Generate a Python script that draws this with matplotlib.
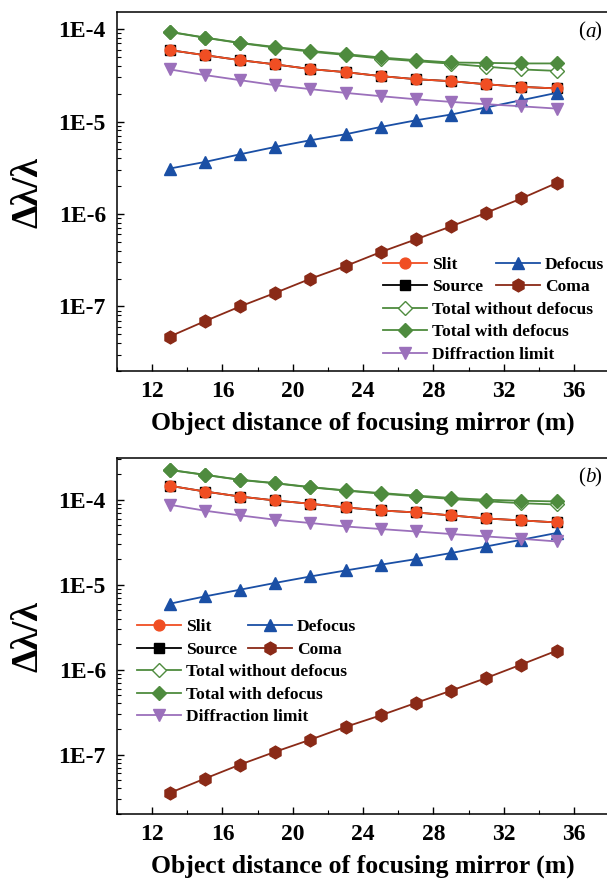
import numpy as np
import matplotlib
matplotlib.use('Agg')
import matplotlib.pyplot as plt
from matplotlib.ticker import LogLocator, FuncFormatter, MultipleLocator, NullFormatter

# ---------------- data ----------------
x = [13, 15, 17, 19, 21, 23, 25, 27, 29, 31, 33, 35]

# panel (a)
a_slit = [5.92e-5, 5.22e-5, 4.61e-5, 4.15e-5, 3.69e-5, 3.42e-5, 3.10e-5, 2.87e-5, 2.73e-5, 2.53e-5, 2.37e-5, 2.28e-5]
a_source = [5.92e-5, 5.22e-5, 4.61e-5, 4.15e-5, 3.69e-5, 3.42e-5, 3.10e-5, 2.87e-5, 2.73e-5, 2.53e-5, 2.37e-5, 2.28e-5]
a_defocus = [3.10e-6, 3.65e-6, 4.42e-6, 5.31e-6, 6.27e-6, 7.28e-6, 8.73e-6, 1.03e-5, 1.19e-5, 1.42e-5, 1.70e-5, 2.04e-5]
a_coma = [4.72e-8, 6.92e-8, 9.98e-8, 1.40e-7, 1.99e-7, 2.73e-7, 3.87e-7, 5.31e-7, 7.34e-7, 1.03e-6, 1.47e-6, 2.16e-6]
a_total_wo = [9.30e-5, 8.05e-5, 7.05e-5, 6.30e-5, 5.70e-5, 5.25e-5, 4.80e-5, 4.50e-5, 4.22e-5, 3.92e-5, 3.66e-5, 3.53e-5]
a_total_w = [9.35e-5, 8.10e-5, 7.10e-5, 6.40e-5, 5.80e-5, 5.36e-5, 4.93e-5, 4.61e-5, 4.35e-5, 4.31e-5, 4.25e-5, 4.25e-5]
a_diff = [3.66e-5, 3.18e-5, 2.80e-5, 2.47e-5, 2.24e-5, 2.04e-5, 1.88e-5, 1.74e-5, 1.63e-5, 1.54e-5, 1.46e-5, 1.38e-5]

# panel (b)
b_slit = [1.46e-4, 1.25e-4, 1.09e-4, 9.80e-5, 8.97e-5, 8.12e-5, 7.48e-5, 7.09e-5, 6.54e-5, 6.02e-5, 5.71e-5, 5.41e-5]
b_source = [1.46e-4, 1.25e-4, 1.09e-4, 9.80e-5, 8.97e-5, 8.12e-5, 7.48e-5, 7.09e-5, 6.54e-5, 6.02e-5, 5.71e-5, 5.41e-5]
b_defocus = [5.97e-6, 7.28e-6, 8.73e-6, 1.05e-5, 1.25e-5, 1.47e-5, 1.72e-5, 2.00e-5, 2.36e-5, 2.82e-5, 3.38e-5, 4.06e-5]
b_coma = [3.54e-8, 5.22e-8, 7.63e-8, 1.08e-7, 1.50e-7, 2.12e-7, 2.90e-7, 4.06e-7, 5.66e-7, 7.98e-7, 1.15e-6, 1.67e-6]
b_total_wo = [2.24e-4, 1.96e-4, 1.71e-4, 1.56e-4, 1.40e-4, 1.28e-4, 1.18e-4, 1.10e-4, 1.02e-4, 9.60e-5, 9.10e-5, 8.80e-5]
b_total_w = [2.25e-4, 1.97e-4, 1.72e-4, 1.57e-4, 1.41e-4, 1.29e-4, 1.20e-4, 1.12e-4, 1.05e-4, 1.00e-4, 9.73e-5, 9.55e-5]
b_diff = [8.73e-5, 7.43e-5, 6.54e-5, 5.82e-5, 5.32e-5, 4.85e-5, 4.52e-5, 4.23e-5, 3.95e-5, 3.70e-5, 3.47e-5, 3.23e-5]

xticks = [12, 16, 20, 24, 28, 32, 36]
panel_labels = ['a', 'b']
xlabel = 'Object distance of focusing mirror (m)'
ylabel = '\u0394\u03bb/\u03bb'
legend1_labels = ['Slit', 'Source', 'Total without defocus', 'Total with defocus', 'Diffraction limit']
legend2_labels = ['Defocus', 'Coma']

# ---------------- style ----------------
SERIF = 'Liberation Serif'
plt.rcParams['font.family'] = SERIF
plt.rcParams['font.weight'] = 'bold'

C_SLIT = '#F04E23'
C_SOURCE = '#000000'
C_DEF = '#1A4FA5'
C_COMA = '#8A2A17'
C_GREEN = '#4E8B3E'
C_DIFF = '#9B70BB'
LW = 1.3

W, H = 607, 880
fig = plt.figure(figsize=(W / 100, H / 100), dpi=100)


def px_axes(left, top, right, bottom):
    return fig.add_axes([left / W, 1 - bottom / H, (right - left) / W, (bottom - top) / H])


ax_a = px_axes(117, 12, 609.3, 371)
ax_b = px_axes(117, 458, 609.3, 814)

panels = [
    (ax_a, a_slit, a_source, a_defocus, a_coma, a_total_wo, a_total_w, a_diff, (2e-8, 1.53e-4)),
    (ax_b, b_slit, b_source, b_defocus, b_coma, b_total_wo, b_total_w, b_diff, (2e-8, 3.1e-4)),
]

for i, (ax, slit, source, defocus, coma, two, tw, diff, ylim) in enumerate(panels):
    h_source, = ax.plot(x, source, '-s', color=C_SOURCE, lw=LW, ms=7.2)
    h_slit, = ax.plot(x, slit, '-o', color=C_SLIT, lw=LW, ms=7.8)
    h_def, = ax.plot(x, defocus, '-^', color=C_DEF, lw=LW, ms=8.8)
    h_coma, = ax.plot(x, coma, '-h', color=C_COMA, lw=LW, ms=9.2)
    h_two, = ax.plot(x, two, '-D', color=C_GREEN, mfc='white', mec=C_GREEN, mew=1.0,
                     lw=LW, ms=6.8)
    h_tw, = ax.plot(x, tw, '-D', color=C_GREEN, lw=LW, ms=6.8)
    h_diff, = ax.plot(x, diff, '-v', color=C_DIFF, lw=LW, ms=8.8)

    ax.set_yscale('log')
    ax.set_xlim(10, 38)
    ax.set_ylim(*ylim)
    ax.set_xticks(xticks)
    ax.xaxis.set_minor_locator(MultipleLocator(2))
    ax.yaxis.set_major_locator(LogLocator(base=10, numticks=20))
    ax.yaxis.set_minor_locator(LogLocator(base=10, subs=np.arange(2, 10), numticks=20))
    ax.yaxis.set_minor_formatter(NullFormatter())
    ax.yaxis.set_major_formatter(FuncFormatter(lambda v, p: '1E%d' % int(round(np.log10(v)))))

    ax.tick_params(axis='both', which='major', direction='in', length=5, width=1.0,
                   labelsize=17, pad=8)
    ax.tick_params(axis='both', which='minor', direction='in', length=3, width=0.8)
    ax.tick_params(axis='x', which='major', pad=7)
    for lab in ax.get_xticklabels() + ax.get_yticklabels():
        lab.set_fontweight('bold')
    for sp in ax.spines.values():
        sp.set_linewidth(1.1)

    ax.set_xlabel(xlabel, fontsize=18.5, fontweight='bold', labelpad=7)

    ax.text(0.951, 0.944, '(', transform=ax.transAxes, fontsize=15, fontweight='normal',
            ha='right', va='center')
    ax.text(0.951, 0.944, panel_labels[i], transform=ax.transAxes, fontsize=15,
            fontweight='normal', fontstyle='italic', ha='left', va='center')
    ax.text(0.951 + 0.019, 0.944, ')', transform=ax.transAxes, fontsize=15,
            fontweight='normal', ha='left', va='center')

    # legends
    if i == 0:
        l1x, l1y, l2x = 383, 256.5, 496
    else:
        l1x, l1y, l2x = 137, 619, 248
    common = dict(frameon=False, borderpad=0, borderaxespad=0,
                  handlelength=2.5, handletextpad=0.3, labelspacing=0.36,
                  loc='upper left', bbox_transform=fig.transFigure,
                  prop={'family': SERIF, 'weight': 'bold', 'size': 12.6})
    leg1 = ax.legend([h_slit, h_source, h_two, h_tw, h_diff], legend1_labels,
                     bbox_to_anchor=(l1x / W, 1 - l1y / H), **common)
    ax.add_artist(leg1)
    leg2 = ax.legend([h_def, h_coma], legend2_labels,
                     bbox_to_anchor=(l2x / W, 1 - l1y / H), **common)

# y labels
for cy in (193, 637):
    fig.text(28 / W, 1 - cy / H, ylabel, rotation=90, ha='center', va='center',
             fontsize=27, fontweight='bold')

fig.savefig('out.png', dpi=100)
